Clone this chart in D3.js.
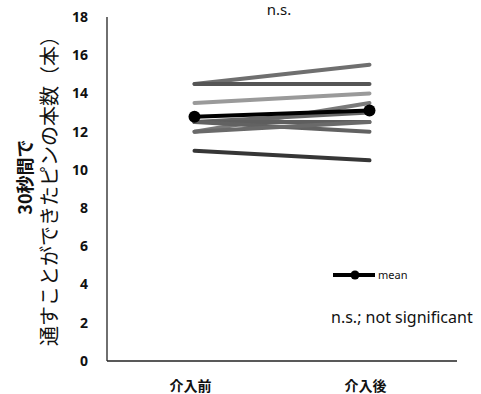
<!DOCTYPE html>
<html>
<head>
  <meta charset="utf-8">
  <title>Pre/post pins</title>
<script src="https://d3js.org/d3.v7.min.js"></script>
  <style>
    body { margin: 0; background: #fff; }
    text { font-family: "Noto Sans", "Noto Sans CJK JP", sans-serif; fill: #111; }
    .tick-label { font-size: 14px; font-weight: bold; }
    .cat-label { font-family: "Noto Sans CJK JP", sans-serif; font-size: 14px; font-weight: bold; }
    .subject { fill: none; stroke-width: 4px; stroke-linecap: round; }
  </style>
</head>
<body>
  <script>
    // phases and per-subject counts (pins threaded in 30 s)
    const phases = ["介入前", "介入後"];
    const before = [14.5, 14.5, 13.5, 12.0, 12.5, 12.5, 12.5, 12.0, 11.0];
    const after  = [15.5, 14.5, 14.0, 13.5, 13.0, 12.5, 12.0, 12.5, 10.5];
    const greys  = ["#6f6f6f", "#555555", "#9a9a9a", "#7a7a7a", "#666666", "#5e5e5e", "#626262", "#6a6a6a", "#363636"];
    const yTicks = [0, 2, 4, 6, 8, 10, 12, 14, 16, 18];

    const W = 481, H = 394;
    const m = { left: 107, right: 24, top: 17, bottom: 33 };

    const svg = d3.select("body").append("svg")
        .attr("width", W)
        .attr("height", H);

    const x = d3.scalePoint().domain(phases).range([m.left, W - m.right]).padding(0.5);
    const y = d3.scaleLinear().domain([0, 18]).range([H - m.bottom, m.top]);

    // axes: plain lines, no tick marks
    svg.append("line")
        .attr("x1", m.left).attr("x2", m.left)
        .attr("y1", y(18)).attr("y2", y(0))
        .attr("stroke", "#222").attr("stroke-width", 1.3);
    svg.append("line")
        .attr("x1", m.left).attr("x2", W - m.right)
        .attr("y1", y(0)).attr("y2", y(0))
        .attr("stroke", "#222").attr("stroke-width", 1.3);

    svg.selectAll(".tick-label")
        .data(yTicks)
        .enter().append("text")
        .attr("class", "tick-label")
        .attr("x", 88)
        .attr("y", d => y(d))
        .attr("dy", "0.35em")
        .attr("text-anchor", "end")
        .text(d => d);

    svg.selectAll(".cat-label")
        .data(phases)
        .enter().append("text")
        .attr("class", "cat-label")
        .attr("x", d => x(d) - 4)
        .attr("y", 391)
        .attr("text-anchor", "middle")
        .text(d => d);

    // y title, two rotated lines
    const title = svg.append("g").attr("transform", "translate(0,186) rotate(-90)");
    title.append("text")
        .attr("x", 9).attr("y", 32)
        .attr("text-anchor", "middle")
        .style("font-family", "'Noto Sans CJK JP', sans-serif")
        .style("font-size", "18px").style("font-weight", "bold")
        .text("30秒間で");
    title.append("text")
        .attr("x", 0).attr("y", 57)
        .attr("text-anchor", "middle")
        .style("font-family", "'Noto Sans CJK JP', sans-serif")
        .style("font-size", "20px")
        .text("通すことができたピンの本数（本）");

    // subject lines
    const pairs = before.map((b, i) => ({ b: b, a: after[i], c: greys[i] }));
    const line = d3.line().x(d => x(d[0])).y(d => y(d[1]));

    svg.selectAll(".subject")
        .data(pairs)
        .enter().append("path")
        .attr("class", "subject")
        .attr("stroke", d => d.c)
        .attr("d", d => line([[phases[0], d.b], [phases[1], d.a]]));

    // mean
    const means = [d3.mean(before), d3.mean(after)];
    svg.append("path")
        .attr("fill", "none")
        .attr("stroke", "#000")
        .attr("stroke-width", 4)
        .attr("d", line(phases.map((p, i) => [p, means[i]])));
    svg.selectAll(".mean-dot")
        .data(means)
        .enter().append("circle")
        .attr("class", "mean-dot")
        .attr("cx", (d, i) => x(phases[i]))
        .attr("cy", d => y(d))
        .attr("r", 6)
        .attr("fill", "#000");

    // legend
    svg.append("line")
        .attr("x1", 333).attr("x2", 375)
        .attr("y1", 275).attr("y2", 275)
        .attr("stroke", "#000").attr("stroke-width", 4);
    svg.append("circle")
        .attr("cx", 355).attr("cy", 275).attr("r", 4.5).attr("fill", "#000");
    svg.append("text")
        .attr("x", 378).attr("y", 275).attr("dy", "0.35em")
        .style("font-size", "11px")
        .text("mean");

    svg.append("text")
        .attr("x", 331).attr("y", 317).attr("dy", "0.35em")
        .style("font-size", "16px")
        .text("n.s.; not significant");

    svg.append("text")
        .attr("x", 279).attr("y", 15)
        .attr("text-anchor", "middle")
        .style("font-size", "15px")
        .text("n.s.");
  </script>
</body>
</html>
